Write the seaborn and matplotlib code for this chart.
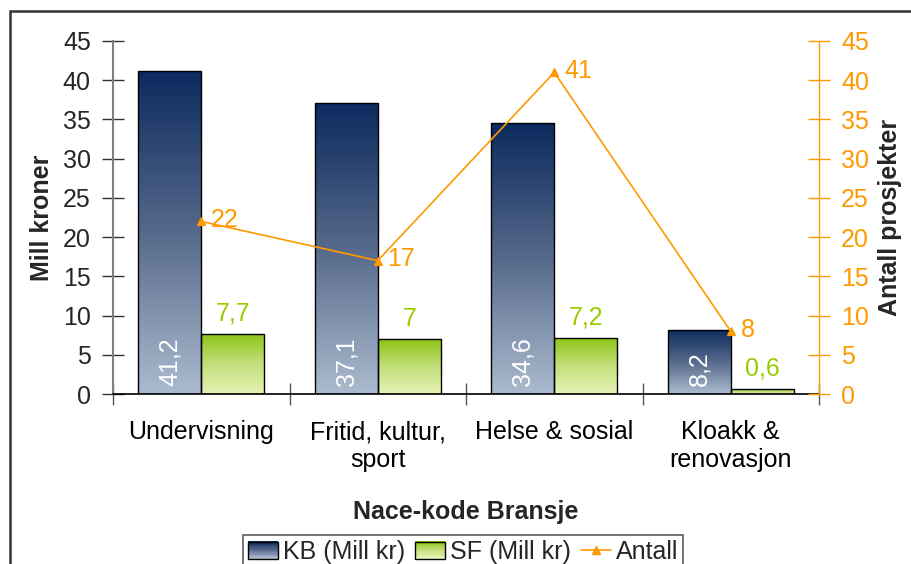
import numpy as np
import pandas as pd
import matplotlib
matplotlib.use("Agg")
import matplotlib.pyplot as plt
import seaborn as sns
from matplotlib.colors import LinearSegmentedColormap
from matplotlib.patches import Patch, Rectangle
from matplotlib.lines import Line2D

# data
bransjer = ["Undervisning", "Fritid, kultur,\nsport", "Helse & sosial", "Kloakk &\nrenovasjon"]
kb_mill = [41.2, 37.1, 34.6, 8.2]
sf_mill = [7.7, 7.0, 7.2, 0.6]
antall = [22, 17, 41, 8]
serier = ["KB (Mill kr)", "SF (Mill kr)"]

orange = "#FF9900"
green_txt = "#99CC00"
kb_cmap = LinearSegmentedColormap.from_list("kb", ["#0B2A5E", "#56698A", "#ABBBCF"])
sf_cmap = LinearSegmentedColormap.from_list("sf", ["#8CC414", "#C3DF7A", "#E6F2B8"])


class GradHandler:
    # legend box with the same top-to-bottom gradient as the bars
    def __init__(self, cmap):
        self.cmap = cmap

    def legend_artist(self, legend, orig_handle, fontsize, handlebox):
        x0, y0 = -handlebox.xdescent, -handlebox.ydescent
        w, h = handlebox.width, handlebox.height
        n = 14
        for k in range(n):
            handlebox.add_artist(Rectangle((x0, y0 + h * (n - 1 - k) / n), w, h / n + 0.2,
                                           facecolor=self.cmap(k / (n - 1)), edgecolor="none",
                                           transform=handlebox.get_transform()))
        frame = Rectangle((x0, y0), w, h, facecolor="none", edgecolor="black", lw=1,
                          transform=handlebox.get_transform())
        handlebox.add_artist(frame)
        return frame


sns.set_theme(style="white")
plt.rcParams["font.family"] = ["Liberation Sans", "DejaVu Sans"]
fs = 18

df = pd.DataFrame({
    "bransje": bransjer * 2,
    "verdi": kb_mill + sf_mill,
    "serie": [serier[0]] * 4 + [serier[1]] * 4,
})

fig = plt.figure(figsize=(9.11, 5.64), dpi=100)
ax = fig.add_axes([113 / 911, 1 - 394 / 564, (819 - 113) / 911, (394 - 41) / 564])

sns.barplot(data=df, x="bransje", y="verdi", hue="serie", hue_order=serier,
            palette=["#5C6F8F", "#C3DF7A"], width=0.714, edgecolor="black",
            linewidth=1, legend=False, ax=ax, errorbar=None)

# gradient fill in each bar
grad = np.linspace(0, 1, 256).reshape(-1, 1)
for cont, cmap in zip(ax.containers, [kb_cmap, sf_cmap]):
    for bar in cont:
        x0, w, h = bar.get_x(), bar.get_width(), bar.get_height()
        im = ax.imshow(grad, cmap=cmap, extent=[x0, x0 + w, 0, h], aspect="auto",
                       zorder=bar.get_zorder(), interpolation="bilinear")
        im.set_clip_path(bar)
        bar.set_facecolor("none")
        bar.set_zorder(bar.get_zorder() + 0.1)

ax.set_xlim(-0.5, 3.5)
ax.set_ylim(0, 45)
ax.set_yticks(range(0, 46, 5))
ax.set_xticks(range(4))
ax.set_xticklabels(bransjer)
ax.set_xticks(np.arange(-0.5, 4, 1), minor=True)
ax.tick_params(axis="x", which="major", length=0, pad=19, labelsize=fs, labelcolor="black")
ax.tick_params(axis="x", which="minor", bottom=True, direction="inout", length=16, width=1, color="#555555")
ax.tick_params(axis="y", left=True, direction="inout", length=16, width=1, color="#333333",
               labelsize=fs, pad=8)
ax.spines["top"].set_visible(False)
ax.spines["right"].set_visible(False)
ax.spines["left"].set_color("#808080")
ax.spines["left"].set_linewidth(1.5)
ax.spines["bottom"].set_color("black")
ax.spines["bottom"].set_linewidth(1.2)
ax.set_xlabel("Nace-kode Bransje", fontsize=fs, fontweight="bold", labelpad=20)
ax.set_ylabel("Mill kroner", fontsize=fs, fontweight="bold", labelpad=6)

# value labels
for bar, v in zip(ax.containers[0], kb_mill):
    ax.text(bar.get_x() + bar.get_width() / 2, 1.0, f"{v:.1f}".replace(".", ","),
            rotation=90, ha="center", va="bottom", color="white", fontsize=fs, zorder=5)
for bar, v in zip(ax.containers[1], sf_mill):
    s = f"{v:g}".replace(".", ",")
    ax.annotate(s, (bar.get_x() + bar.get_width() / 2, v), xytext=(0, 6),
                textcoords="offset points", ha="center", va="bottom",
                color=green_txt, fontsize=fs, zorder=5)

# right axis with antall
ax2 = ax.twinx()
sns.pointplot(x=bransjer, y=antall, ax=ax2, color=orange, markers="^",
              linewidth=1.2, markersize=6, errorbar=None)
ax2.set_xlim(-0.5, 3.5)
ax2.set_ylim(0, 45)
ax2.set_yticks(range(0, 46, 5))
ax2.tick_params(axis="y", right=True, direction="inout", length=16, width=1, color=orange,
                labelsize=fs, labelcolor=orange, pad=8)
for side in ["top", "left", "bottom"]:
    ax2.spines[side].set_visible(False)
ax2.spines["right"].set_color(orange)
ax2.spines["right"].set_linewidth(1)
ax2.set_ylabel("Antall prosjekter", fontsize=fs, fontweight="bold", labelpad=6)
for i, v in enumerate(antall):
    ax2.annotate(str(v), (i, v), xytext=(7, 1), textcoords="offset points",
                 ha="left", va="center", color=orange, fontsize=fs)

# legend at bottom
kb_h = Patch(facecolor="#5C6F8F", edgecolor="black", label=serier[0])
sf_h = Patch(facecolor="#C3DF7A", edgecolor="black", label=serier[1])
ant_h = Line2D([], [], color=orange, marker="^", markersize=6, lw=1.2, label="Antall")
leg = fig.legend(handles=[kb_h, sf_h, ant_h], loc="upper left",
                 bbox_to_anchor=(243 / 911, 1 - 535 / 564),
                 handler_map={kb_h: GradHandler(kb_cmap), sf_h: GradHandler(sf_cmap)},
                 ncol=3, frameon=True, fancybox=False, fontsize=fs, handlelength=1.2,
                 handletextpad=0.2, columnspacing=0.4, borderpad=0.2, edgecolor="#333333",
                 borderaxespad=0)
leg.get_frame().set_linewidth(1.2)

# outer chart border (cropped on right and bottom)
fig.patches.append(Rectangle((10 / 911, -0.5), 2, 1.5 - 11 / 564, transform=fig.transFigure,
                             fill=False, edgecolor="#333333", lw=1.8))

fig.savefig("out.png", dpi=100)
